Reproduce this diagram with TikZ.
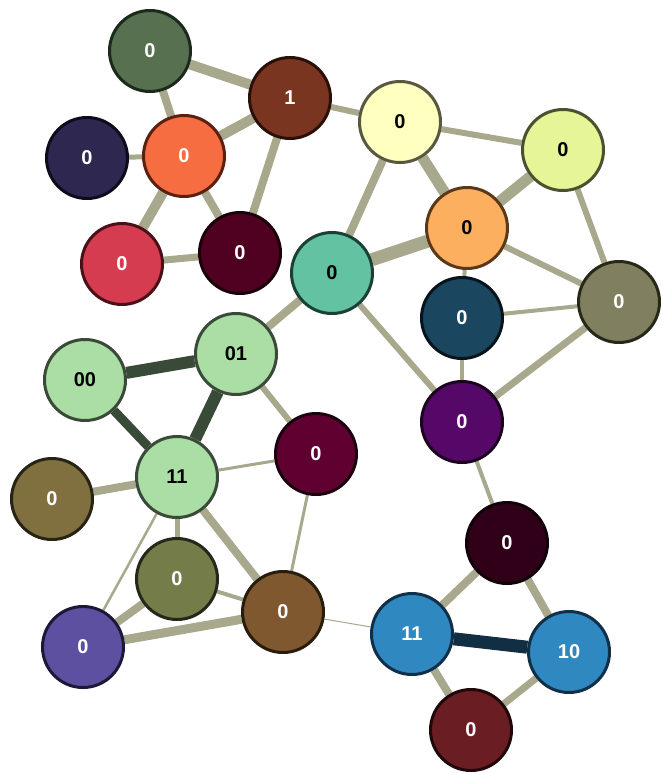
\documentclass[tikz,border=0pt]{standalone}
\usepackage{fontspec}
\setmainfont{Liberation Sans}
\usepackage{xcolor}
\usetikzlibrary{backgrounds}

\definecolor{edgegray}{HTML}{A8A88C}
\definecolor{darkgreen}{HTML}{3A4A38}
\definecolor{darknavy}{HTML}{122E42}

\begin{document}
\begin{tikzpicture}[x=1pt, y=-1pt,
    vertex/.style = {circle, minimum size=81pt, inner sep=0pt, line width=3pt, font=\fontsize{20}{22}\selectfont\bfseries},
    dk/.style = {vertex, text=white},
    lt/.style = {vertex, text=black},
    link/.style = {draw=edgegray, line width=#1}]
                \useasboundingbox (0,0) rectangle (663,774);

                % Vertices, upper left group
                \node[dk, fill={rgb,255:red,86;green,112;blue,80}, draw={rgb,255:red,28;green,42;blue,28}] (A) at (150,51) {0};
                \node[dk, fill={rgb,255:red,122;green,53;blue,32}, draw={rgb,255:red,42;green,16;blue,8}] (B) at (290,98) {1};
                \node[dk, fill={rgb,255:red,46;green,40;blue,80}, draw={rgb,255:red,12;green,12;blue,28}] (E) at (87,158) {0};
                \node[dk, fill={rgb,255:red,245;green,109;blue,64}, draw={rgb,255:red,90;green,32;blue,16}] (F) at (184,156) {0};
                \node[dk, fill={rgb,255:red,214;green,60;blue,80}, draw={rgb,255:red,74;green,16;blue,24}] (G) at (122,264) {0};
                \node[dk, fill={rgb,255:red,80;green,0;blue,32}, draw={rgb,255:red,26;green,0;blue,8}] (H) at (240,253) {0};

                % Vertices, upper right group
                \node[lt, fill={rgb,255:red,255;green,255;blue,192}, draw={rgb,255:red,88;green,88;blue,64}] (C) at (400,122) {0};
                \node[lt, fill={rgb,255:red,229;green,245;blue,152}, draw={rgb,255:red,74;green,80;blue,48}] (D) at (563,150) {0};
                \node[lt, fill={rgb,255:red,253;green,175;blue,96}, draw={rgb,255:red,90;green,56;blue,24}] (J) at (467,228) {0};
                \node[lt, fill={rgb,255:red,98;green,194;blue,162}, draw={rgb,255:red,26;green,64;blue,56}] (I) at (332,273) {0};
                \node[dk, fill={rgb,255:red,128;green,128;blue,96}, draw={rgb,255:red,40;green,40;blue,24}] (K) at (619,302) {0};
                \node[dk, fill={rgb,255:red,26;green,70;blue,96}, draw={rgb,255:red,8;green,20;blue,28}] (L) at (462,318) {0};
                \node[dk, fill={rgb,255:red,86;green,8;blue,104}, draw={rgb,255:red,28;green,4;blue,32}] (M) at (462,422) {0};

                % Vertices, lower left group
                \node[lt, fill={rgb,255:red,170;green,222;blue,164}, draw=darkgreen] (N) at (85,380) {00};
                \node[lt, fill={rgb,255:red,170;green,222;blue,164}, draw=darkgreen] (O) at (236,354) {01};
                \node[lt, fill={rgb,255:red,170;green,222;blue,164}, draw=darkgreen] (Q) at (177,477) {11};
                \node[dk, fill={rgb,255:red,96;green,0;blue,48}, draw={rgb,255:red,28;green,0;blue,16}] (P) at (316,454) {0};
                \node[dk, fill={rgb,255:red,128;green,112;blue,64}, draw={rgb,255:red,40;green,36;blue,20}] (R) at (52,499) {0};
                \node[dk, fill={rgb,255:red,116;green,124;blue,74}, draw={rgb,255:red,36;green,40;blue,24}] (S) at (177,579) {0};
                \node[dk, fill={rgb,255:red,94;green,80;blue,160}, draw={rgb,255:red,28;green,24;blue,56}] (T) at (83,647) {0};
                \node[dk, fill={rgb,255:red,128;green,88;blue,48}, draw={rgb,255:red,40;green,28;blue,12}] (U) at (283,612) {0};

                % Vertices, lower right group
                \node[dk, fill={rgb,255:red,48;green,0;blue,24}, draw={rgb,255:red,16;green,0;blue,8}] (V) at (507,543) {0};
                \node[dk, fill={rgb,255:red,48;green,136;blue,192}, draw={rgb,255:red,16;green,48;blue,74}] (W) at (412,634) {11};
                \node[dk, fill={rgb,255:red,48;green,136;blue,192}, draw={rgb,255:red,16;green,48;blue,74}] (X) at (569,652) {10};
                \node[dk, fill={rgb,255:red,106;green,30;blue,36}, draw={rgb,255:red,32;green,8;blue,8}] (Y) at (471,730) {0};

                \begin{scope}[on background layer]
                % Edges, upper left
                \draw[link=10pt] (A) -- (B);
                \draw[link=8pt] (A) -- (F);
                \draw[link=10pt] (F) -- (B);
                \draw[link=8pt] (B) -- (H);
                \draw[link=5pt] (E) -- (F);
                \draw[link=10pt] (F) -- (G);
                \draw[link=8pt] (F) -- (H);
                \draw[link=7pt] (G) -- (H);
                \draw[link=6pt] (B) -- (C);

                % Edges, upper right
                \draw[link=6pt] (C) -- (D);
                \draw[link=8pt] (C) -- (I);
                \draw[link=11pt] (C) -- (J);
                \draw[link=11pt] (D) -- (J);
                \draw[link=6pt] (D) -- (K);
                \draw[link=13pt] (J) -- (I);
                \draw[link=6pt] (J) -- (K);
                \draw[link=4pt] (J) -- (L);
                \draw[link=4pt] (L) -- (K);
                \draw[link=4pt] (L) -- (M);
                \draw[link=6pt] (I) -- (M);
                \draw[link=7pt] (K) -- (M);
                \draw[link=4pt] (M) -- (V);
                \draw[link=8pt] (I) -- (O);

                % Edges, lower left
                \draw[draw=darkgreen, line width=12pt] (N) -- (O);
                \draw[draw=darkgreen, line width=12pt] (O) -- (Q);
                \draw[draw=darkgreen, line width=9pt] (N) -- (Q);
                \draw[link=6pt] (O) -- (P);
                \draw[link=3pt] (Q) -- (P);
                \draw[link=8pt] (Q) -- (R);
                \draw[link=5pt] (Q) -- (S);
                \draw[link=2.5pt] (Q) -- (T);
                \draw[link=8pt] (Q) -- (U);
                \draw[link=3pt] (P) -- (U);
                \draw[link=8pt] (S) -- (T);
                \draw[link=4pt] (S) -- (U);
                \draw[link=9pt] (T) -- (U);
                \draw[link=1pt] (U) -- (W);

                % Edges, lower right
                \draw[link=8pt] (W) -- (V);
                \draw[link=8pt] (V) -- (X);
                \draw[draw=darknavy, line width=13pt] (W) -- (X);
                \draw[link=8pt] (W) -- (Y);
                \draw[link=7pt] (X) -- (Y);
                \end{scope}
\end{tikzpicture}
\end{document}
